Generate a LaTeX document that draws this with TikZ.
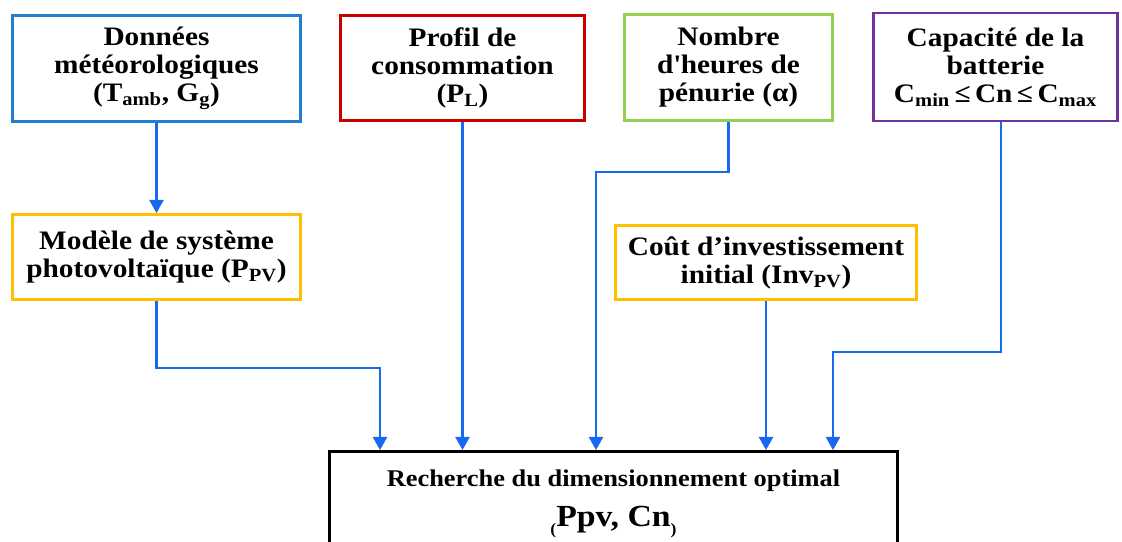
\documentclass[tikz,border=0pt]{standalone}
\usepackage{fontspec}
\setmainfont{Liberation Serif}[FakeStretch=1.1]
\usetikzlibrary{arrows.meta}
\definecolor{cblue}{RGB}{35,125,210}
\definecolor{cred}{RGB}{200,0,0}
\definecolor{cgreen}{RGB}{146,208,80}
\definecolor{cpurple}{RGB}{112,48,160}
\definecolor{cyellow}{RGB}{255,192,0}
\definecolor{arrowblue}{RGB}{25,105,240}
\begin{document}
\begin{tikzpicture}[x=0.75pt,y=-0.75pt,
  box/.style={draw, line width=2pt, align=center, inner sep=0pt,
    font=\bfseries\fontsize{20}{21}\selectfont},
  arr/.style={draw=arrowblue, line width=2.1pt, line join=miter,
    -{Triangle[length=10pt,width=10.5pt]}}]
\clip (0,0) rectangle (1122,542);
\fill[white] (0,0) rectangle (1122,542);

\node[box, draw=cblue, minimum width=216pt, minimum height=79.5pt] (b1) at (156.5,68.5)
  {Données\\météorologiques\\(T\textsubscript{amb}, G\textsubscript{g})};
\node[box, draw=cred, minimum width=183pt, minimum height=78.75pt] (b2) at (462.5,68)
  {Profil de\\consommation\\(P\textsubscript{L})};
\node[box, draw=cgreen, minimum width=156pt, minimum height=79.5pt] (b3) at (728.5,67.5)
  {Nombre\\d\textquotesingle heures de\\pénurie (α)};
\node[box, draw=cpurple, minimum width=183pt, minimum height=81pt] (b4) at (995.5,67)
  {Capacité de la\\batterie\\C\textsubscript{min}\,≤\,Cn\,≤\,C\textsubscript{max}};
\node[box, draw=cyellow, minimum width=216pt, minimum height=63.75pt] (y1) at (156.5,257)
  {Modèle de système\\photovoltaïque (P\textsubscript{PV})};
\node[box, draw=cyellow, minimum width=225.75pt, minimum height=55.5pt] (y2) at (766,262.5)
  {Coût d’investissement\\initial (Inv\textsubscript{PV})};
\node[box, draw=black, minimum width=426pt, minimum height=78.75pt,
  font=\bfseries\fontsize{18}{20}\selectfont] (opt) at (613.5,504)
  {Recherche du dimensionnement optimal\\[10pt]
   {\fontsize{23}{23}\selectfont\raisebox{-6pt}{\fontsize{12}{12}\selectfont(}Ppv, Cn\raisebox{-6pt}{\fontsize{12}{12}\selectfont)}}};

\coordinate (j1) at (380,368);
\coordinate (j3) at (596,172);
\coordinate (j4) at (833,352);

\draw[arr] (b1.south) -- (y1.north);
\draw[arr] (y1.south) |- (j1) -- (j1 |- opt.north);
\draw[arr] (b2.south) -- (b2.south |- opt.north);
\draw[arr] (b3.south) |- (j3) -- (j3 |- opt.north);
\draw[arr] (y2.south) -- (y2.south |- opt.north);
\draw[arr] ([xshift=4.125pt]b4.south) |- (j4) -- (j4 |- opt.north);
\end{tikzpicture}
\end{document}
